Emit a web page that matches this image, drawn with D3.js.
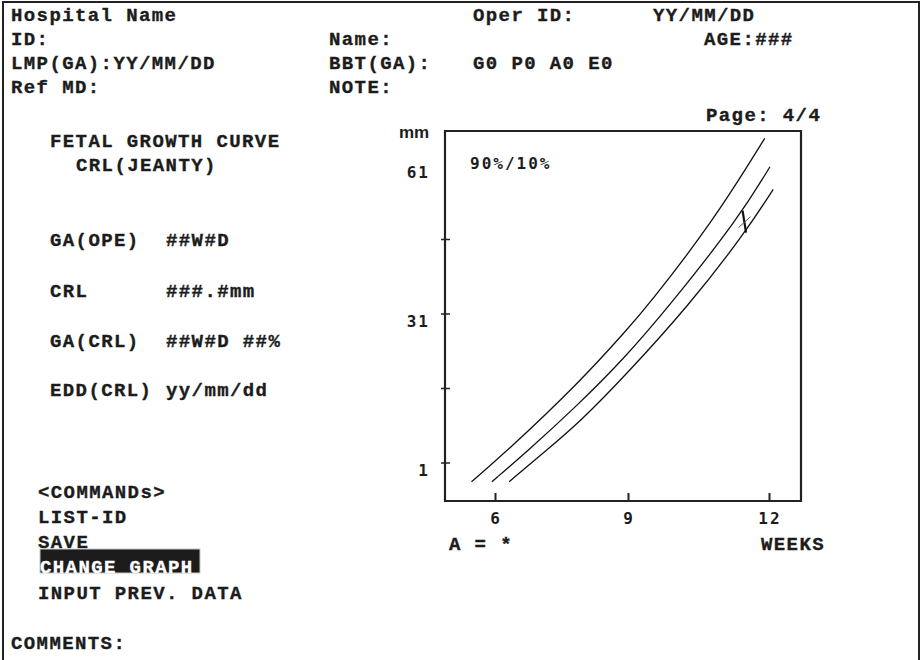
<!DOCTYPE html>
<meta charset="utf-8">
<script src="https://d3js.org/d3.v7.min.js"></script>
<style>
  body { margin: 0; background: #fff; }
  text { fill: #1c1c1c; }
  .mono { font-family: "Liberation Mono", monospace; font-weight: bold; font-size: 19px; letter-spacing: 1.4px; stroke: #1c1c1c; stroke-width: 0.35px; }
  .tick-label { font-family: "DejaVu Sans Mono", monospace; font-weight: bold; font-size: 16px; letter-spacing: 2px; }
</style>
<svg id="chart" width="921" height="660"></svg>

<script>
  // ---- data ----
  var xTicks = [6, 9, 12];
  var yTicks = [1, 16, 31, 46];
  var yLabels = [1, 31, 61];

  // percentile curves, [week, mm]
  var p90 = [[5.47, -2.76], [6.26, 3.28], [7.92, 17.37], [8.97, 27.78], [9.40, 32.4], [10.81, 49.6], [11.91, 66.37]];
  var p50 = [[5.93, -2.76], [6.72, 3.28], [7.86, 12.6], [8.90, 21.9], [9.88, 32.6], [11.36, 50.4], [12.02, 60.65]];
  var p10 = [[6.32, -2.76], [7.10, 3.1], [7.92, 9.3], [8.97, 18.9], [10.30, 32.8], [11.45, 46.8], [12.09, 56.1]];
  var measured = [[11.48, 49.6]];

  var svg = d3.select("#chart");

  // page frame
  svg.append("path")
    .attr("d", "M3,665 V2 H919 V665")
    .attr("fill", "none")
    .attr("stroke", "#222")
    .attr("stroke-width", 2);

  // header / side texts
  function txt(s, x, y, cls) {
    return svg.append("text").attr("class", cls || "mono").attr("x", x).attr("y", y).text(s);
  }

  txt("Hospital Name", 11, 20.5);
  txt("Oper ID:", 473, 20.5);
  txt("YY/MM/DD", 653, 20.5);
  txt("ID:", 11, 44.5);
  txt("Name:", 329, 44.5);
  txt("AGE:###", 704, 44.5);
  txt("LMP(GA):YY/MM/DD", 11, 68.5);
  txt("BBT(GA):", 329, 68.5);
  txt("G0 P0 A0 E0", 473, 68.5);
  txt("Ref MD:", 11, 92.5);
  txt("NOTE:", 329, 92.5);
  txt("Page: 4/4", 706, 121);

  txt("FETAL GROWTH CURVE", 50, 147);
  txt("CRL(JEANTY)", 76, 171);
  txt("GA(OPE)", 50, 246); txt("##W#D", 166, 246);
  txt("CRL", 50, 297); txt("###.#mm", 166, 297);
  txt("GA(CRL)", 50, 347); txt("##W#D ##%", 166, 347);
  txt("EDD(CRL)", 50, 396); txt("yy/mm/dd", 166, 396);

  txt("<COMMANDs>", 38, 498);
  txt("LIST-ID", 38, 523);
  txt("SAVE", 38, 547.5);
  svg.append("clipPath").attr("id", "hl").append("rect")
    .attr("x", 40).attr("y", 549).attr("width", 160).attr("height", 24);
  svg.append("rect")
    .attr("x", 40).attr("y", 549).attr("width", 160).attr("height", 24)
    .attr("fill", "#1c1c1c").attr("stroke", "#c8c8c8").attr("stroke-width", 1);
  txt("CHANGE GRAPH", 40, 573).attr("clip-path", "url(#hl)").style("fill", "#fff").style("stroke", "#fff");
  txt("INPUT PREV. DATA", 38, 599);
  txt("COMMENTS:", 11, 648.5);

  // ---- chart ----
  var plotL = 445, plotR = 801, plotT = 131, plotB = 501;

  var x = d3.scaleLinear().domain(xTicks).range([495, 628, 769]);
  var y = d3.scaleLinear().domain([1, 31]).range([463, 314]);

  var g = svg.append("g");

  g.append("path")
    .attr("d", "M" + plotL + "," + plotB + " V" + plotT + " H" + plotR + " V" + plotB + " Z")
    .attr("fill", "none")
    .attr("stroke", "#222")
    .attr("stroke-width", 2.2);

  // x ticks (inside, upward)
  var xAxis = d3.axisTop(x).tickValues(xTicks).tickSize(8).tickFormat("");
  g.append("g").attr("transform", "translate(0," + plotB + ")").call(xAxis)
    .call(function(s) { s.select(".domain").remove(); })
    .selectAll("line").attr("stroke", "#222").attr("stroke-width", 2);

  g.selectAll(".xlab").data(xTicks).enter().append("text")
    .attr("class", "tick-label")
    .attr("x", function(d) { return x(d) + 1; })
    .attr("y", 524)
    .attr("text-anchor", "middle")
    .text(function(d) { return d; });

  // y ticks (across the axis)
  g.selectAll(".ytick").data(yTicks).enter().append("line")
    .attr("x1", plotL - 4).attr("x2", plotL + 5)
    .attr("y1", function(d) { return y(d); })
    .attr("y2", function(d) { return y(d); })
    .attr("stroke", "#222").attr("stroke-width", 1.5);

  g.selectAll(".ylab").data(yLabels).enter().append("text")
    .attr("class", "tick-label")
    .attr("x", 430)
    .attr("y", function(d) { return y(d) + 13; })
    .attr("text-anchor", "end")
    .text(function(d) { return d; });

  g.append("text")
    .attr("x", 399).attr("y", 138)
    .style("font-family", "'Liberation Sans', Arial, sans-serif")
    .style("font-weight", "bold")
    .style("font-size", "17px")
    .text("mm");

  g.append("text").attr("class", "tick-label").attr("x", 470).attr("y", 169).text("90%/10%");

  txt("A = *", 449, 550);
  txt("WEEKS", 761, 550);

  // curves
  var line = d3.line()
    .x(function(d) { return x(d[0]); })
    .y(function(d) { return y(d[1]); })
    .curve(d3.curveBasis);

  g.selectAll(".curve").data([p90, p50, p10]).enter().append("path")
    .attr("d", line)
    .attr("fill", "none")
    .attr("stroke", "#111")
    .attr("stroke-width", 1.3);

  // measured point marker
  var m = g.selectAll(".mark").data(measured).enter().append("g")
    .attr("transform", function(d) { return "translate(" + x(d[0]) + "," + y(d[1]) + ")"; });
  m.append("line").attr("x1", -2).attr("y1", -11).attr("x2", 1.5).attr("y2", 11)
    .attr("stroke", "#111").attr("stroke-width", 2.2);
  m.append("line").attr("x1", -6).attr("y1", 6).attr("x2", 6).attr("y2", -5)
    .attr("stroke", "#555").attr("stroke-width", 1);
</script>
